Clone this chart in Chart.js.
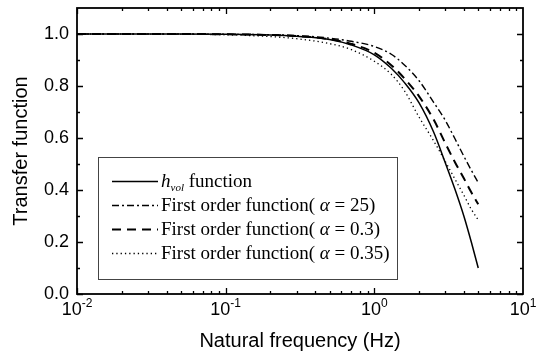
<!DOCTYPE html>
<html>
<head>
<meta charset="utf-8">
<script src="https://cdn.jsdelivr.net/npm/chart.js@4.4.1/dist/chart.umd.min.js"></script>
<style>
  html, body { margin: 0; padding: 0; background: #fff; }
  #wrap { width: 537px; height: 354px; }
</style>
</head>
<body>
<div id="wrap"><canvas id="tfChart" width="537" height="354"></canvas></div>
<script>
// values
const freqs    = [0.01, 0.02, 0.05, 0.1, 0.2, 0.3, 0.5, 0.7, 1.0, 1.3, 1.6, 2.0, 2.5, 3.0, 3.5, 4.0, 4.5, 5.0];
const hVol     = [1.0, 1.0, 1.0, 0.999, 0.996, 0.991, 0.979, 0.958, 0.92, 0.868, 0.812, 0.735, 0.624, 0.505, 0.40, 0.30, 0.198, 0.10];
const first25  = [1.0, 1.0, 1.0, 0.999, 0.997, 0.994, 0.984, 0.972, 0.952, 0.922, 0.88, 0.82, 0.738, 0.668, 0.595, 0.53, 0.475, 0.428];
const first03  = [1.0, 1.0, 1.0, 0.999, 0.996, 0.992, 0.98, 0.962, 0.928, 0.88, 0.828, 0.76, 0.672, 0.58, 0.505, 0.445, 0.39, 0.345];
const first035 = [1.0, 1.0, 0.999, 0.997, 0.99, 0.982, 0.963, 0.94, 0.895, 0.845, 0.78, 0.68, 0.59, 0.51, 0.44, 0.38, 0.325, 0.285];

const xTickValues = [0.01, 0.1, 1, 10];
const xTickBase = ['10', '10', '10', '10'];
const xTickExp = ['-2', '-1', '0', '1'];
const yTickValues = [0.0, 0.2, 0.4, 0.6, 0.8, 1.0];
const yTickLabels = ['0.0', '0.2', '0.4', '0.6', '0.8', '1.0'];
const xTitle = 'Natural frequency (Hz)';
const yTitle = 'Transfer function';
const legendAlpha = ['25', '0.3', '0.35'];

const SANS = '"Liberation Sans", Arial, sans-serif';
const SERIF = '"Liberation Serif", "Times New Roman", serif';

function pts(arr){ return freqs.map((f,i)=>({x:f, y:arr[i]})); }

const styles = [
  {width:1.5, dash:[]},
  {width:1.4, dash:[7,3,2,3]},
  {width:2,   dash:[9,6]},
  {width:1.3, dash:[1.3,3]}
];

const datasets = [hVol, first25, first03, first035].map((arr,i)=>({
  data: pts(arr),
  borderColor: '#000',
  borderWidth: styles[i].width,
  borderDash: styles[i].dash,
  pointRadius: 0,
  fill: false,
  cubicInterpolationMode: 'monotone'
}));

const framePlugin = {
  id: 'frame',
  afterDraw(chart){
    const {ctx, chartArea:a, scales:{x, y}} = chart;
    ctx.save();
    ctx.strokeStyle = '#000';
    ctx.fillStyle = '#000';
    ctx.setLineDash([]);

    // ticks (inward, all four sides)
    ctx.lineWidth = 1.3;
    ctx.beginPath();
    for(let d=-2; d<=0; d++){
      for(let k=1; k<=9; k++){
        const v = k*Math.pow(10,d);
        const px = Math.round(x.getPixelForValue(v))+0.5;
        const len = k===1 ? 6 : 3;
        ctx.moveTo(px, a.bottom); ctx.lineTo(px, a.bottom-len);
        ctx.moveTo(px, a.top); ctx.lineTo(px, a.top+len);
      }
    }
    for(let i=0; i<=10; i++){
      const py = Math.round(y.getPixelForValue(i/10))+0.5;
      const len = i%2===0 ? 6 : 3;
      ctx.moveTo(a.left, py); ctx.lineTo(a.left+len, py);
      ctx.moveTo(a.right, py); ctx.lineTo(a.right-len, py);
    }
    ctx.stroke();

    ctx.lineWidth = 1.8;
    ctx.strokeRect(a.left, a.top, a.right-a.left, a.bottom-a.top);

    // y tick labels
    ctx.font = '18px ' + SANS;
    ctx.textAlign = 'right';
    ctx.textBaseline = 'middle';
    yTickValues.forEach((v,i)=>{
      ctx.fillText(yTickLabels[i], a.left-8, y.getPixelForValue(v));
    });

    // x tick labels with superscript exponent
    ctx.textAlign = 'left';
    ctx.textBaseline = 'alphabetic';
    xTickValues.forEach((v,i)=>{
      ctx.font = '18px ' + SANS;
      const wb = ctx.measureText(xTickBase[i]).width;
      ctx.font = '12px ' + SANS;
      const we = ctx.measureText(xTickExp[i]).width;
      const start = x.getPixelForValue(v) - (wb+we)/2;
      ctx.font = '18px ' + SANS;
      ctx.fillText(xTickBase[i], start, a.bottom+21);
      ctx.font = '12px ' + SANS;
      ctx.fillText(xTickExp[i], start+wb, a.bottom+13);
    });

    // axis titles
    ctx.font = '20px ' + SANS;
    ctx.textAlign = 'center';
    ctx.fillText(xTitle, (a.left+a.right)/2, 347);
    ctx.save();
    ctx.translate(21, (a.top+a.bottom)/2);
    ctx.rotate(-Math.PI/2);
    ctx.textBaseline = 'middle';
    ctx.fillText(yTitle, 0, 0);
    ctx.restore();

    // legend box
    const lx = 98, ly = 157, lw = 299, lh = 122;
    ctx.lineWidth = 1;
    ctx.strokeStyle = '#444';
    ctx.strokeRect(lx+0.5, ly+0.5, lw, lh);
    ctx.strokeStyle = '#000';
    const rows = [181, 205, 229, 253];
    rows.forEach((ry,i)=>{
      ctx.lineWidth = styles[i].width;
      ctx.setLineDash(styles[i].dash);
      ctx.beginPath();
      ctx.moveTo(112, ry+0.5); ctx.lineTo(158, ry+0.5);
      ctx.stroke();
      ctx.setLineDash([]);
      const base = ry+6;
      let tx = 161;
      ctx.textAlign = 'left';
      ctx.textBaseline = 'alphabetic';
      if(i===0){
        ctx.font = 'italic 19px ' + SERIF;
        ctx.fillText('h', tx, base); tx += ctx.measureText('h').width;
        ctx.font = 'italic 11px ' + SERIF;
        ctx.fillText('vol', tx, base+4); tx += ctx.measureText('vol').width;
        ctx.font = '19px ' + SERIF;
        ctx.fillText(' function', tx, base);
      } else {
        ctx.font = '19px ' + SERIF;
        const s1 = 'First order function( ';
        ctx.fillText(s1, tx, base); tx += ctx.measureText(s1).width;
        ctx.font = 'italic 19px ' + SERIF;
        ctx.fillText('\u03b1', tx, base); tx += ctx.measureText('\u03b1').width;
        ctx.font = '19px ' + SERIF;
        ctx.fillText(' = ' + legendAlpha[i-1] + ')', tx, base);
      }
    });
    ctx.restore();
  }
};

new Chart(document.getElementById('tfChart').getContext('2d'), {
  type: 'line',
  data: { datasets },
  options: {
    responsive: false,
    animation: false,
    layout: { padding: {left: 77, top: 8, right: 14, bottom: 60} },
    plugins: { legend: {display:false}, tooltip: {enabled:false} },
    scales: {
      x: { type:'logarithmic', min:0.01, max:10, display:false },
      y: { type:'linear', min:0, max:1.1, display:false }
    }
  },
  plugins: [framePlugin]
});
</script>
</body>
</html>
